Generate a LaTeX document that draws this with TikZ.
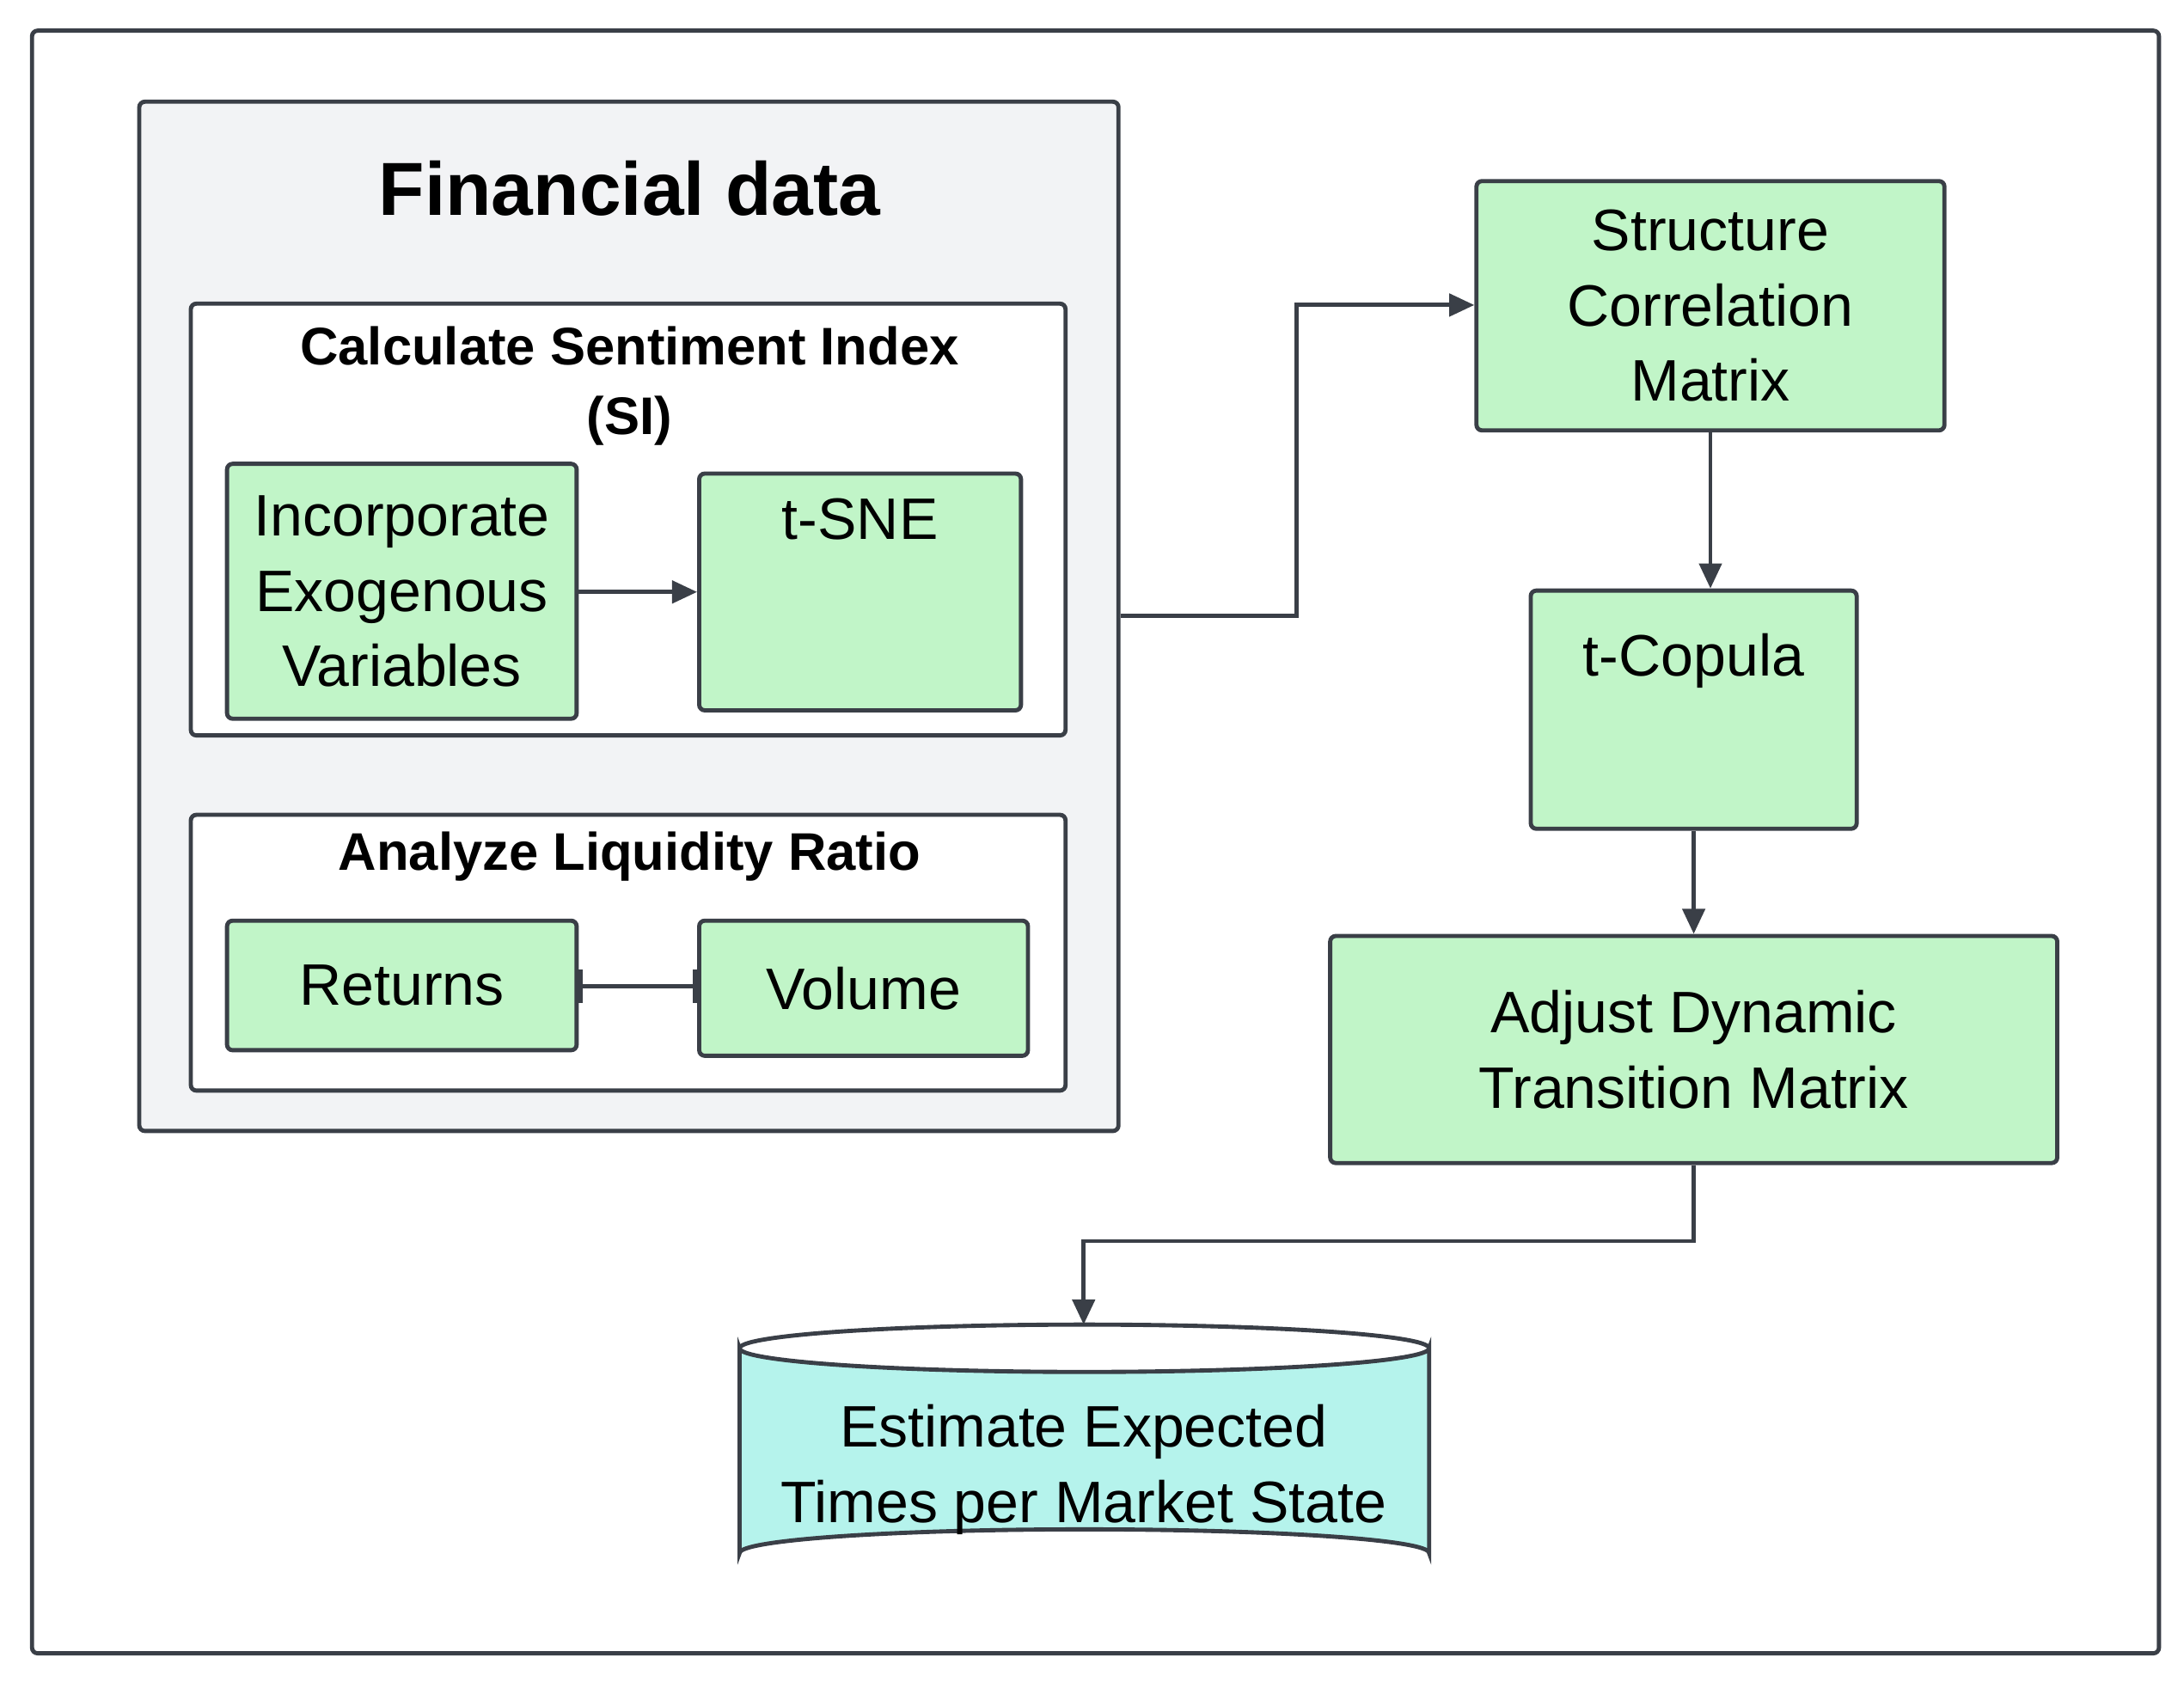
\documentclass[tikz,border=0pt]{standalone}
\usepackage{fontspec}
\setmainfont{Liberation Sans}
\usetikzlibrary{arrows.meta}
\definecolor{ln}{HTML}{3A3F47}
\definecolor{gr}{HTML}{C1F5C8}
\definecolor{bg}{HTML}{F2F3F5}
\definecolor{cy}{HTML}{B5F3EC}
\begin{document}
\begin{tikzpicture}[x=0.5pt,y=-0.5pt,
  bx/.style={draw=ln,line width=1.5pt,rounded corners=2pt,inner sep=0pt,align=center,font=\fontsize{21}{27}\selectfont},
  g/.style={bx,fill=gr},
  ar/.style={draw=ln,line width=1.5pt,-{Triangle[length=9pt,width=8pt]}},
  tt/.style={font=\bfseries\fontsize{19}{25}\selectfont,align=center}]
\useasboundingbox (0,0) rectangle (1568,1207);
\node[bx,minimum width=763.5pt,minimum height=582.5pt] (outer) at (786.5,604.5) {};
\node[bx,fill=bg,minimum width=351.5pt,minimum height=369.5pt] (fin) at (451.5,442.5) {};
\node[font=\bfseries\fontsize{27}{32}\selectfont] (fint) at (452,135) {Financial data};
\node[bx,fill=white,minimum width=314pt,minimum height=155pt] (si) at (451,373) {};
\node[tt] (sit) at (452,277) {Calculate Sentiment Index\\(SI)};
\node[g,minimum width=125.5pt,minimum height=91.5pt] (inc) at (288.5,424.5) {Incorporate\\Exogenous\\Variables};
\node[g,minimum width=115.5pt,minimum height=85pt] (tsne) at (617.5,425) {t-SNE\\[1.2em]};
\node[bx,fill=white,minimum width=314pt,minimum height=99pt] (liq) at (451,684) {};
\node[tt] (liqt) at (452,615) {Analyze Liquidity Ratio};
\node[g,minimum width=125.5pt,minimum height=46.5pt] (ret) at (288.5,707.5) {Returns};
\node[g,minimum width=118pt,minimum height=48.5pt] (vol) at (620,709.5) {Volume};
\node[g,minimum width=168pt,minimum height=89.5pt] (scm) at (1228,219.5) {Structure\\Correlation\\Matrix};
\node[g,minimum width=117pt,minimum height=85.5pt] (tc) at (1216,509.5) {t-Copula\\[0.6em]};
\node[g,minimum width=261pt,minimum height=81.5pt] (adj) at (1216,753.5) {Adjust Dynamic\\Transition Matrix};
% cylinder
\draw[ln,line width=1.5pt,fill=cy] (531,968) -- (531,1115) arc[start angle=180,end angle=360,x radius=247.5,y radius=17] -- (1026,968) arc[start angle=0,end angle=180,x radius=247.5,y radius=17] -- cycle;
\draw[ln,line width=1.5pt] (531,968) arc[start angle=180,end angle=360,x radius=247.5,y radius=17];
\node[font=\fontsize{21}{27}\selectfont,align=center] (est) at (778,1055) {Estimate Expected\\Times per Market State};
\coordinate (cyltop) at (778,951);
% connectors
\draw[ar] (inc.east |- 0,425) -- (tsne.west |- 0,425);
\draw[draw=ln,line width=1.5pt,{Bar[width=12pt]}-{Bar[width=12pt]}] (ret.east |- 0,708) -- (vol.west |- 0,708);
\draw[ar] (fin.east |- 0,442) -- (931,442) -- (931,219) -- (scm.west |- 0,219);
\draw[ar] (scm.south) -- (tc.north -| scm.south);
\draw[ar] (tc.south) -- (adj.north);
\draw[ar] (adj.south) -- (1216,891) -- (778,891) -- (cyltop);
\end{tikzpicture}
\end{document}
